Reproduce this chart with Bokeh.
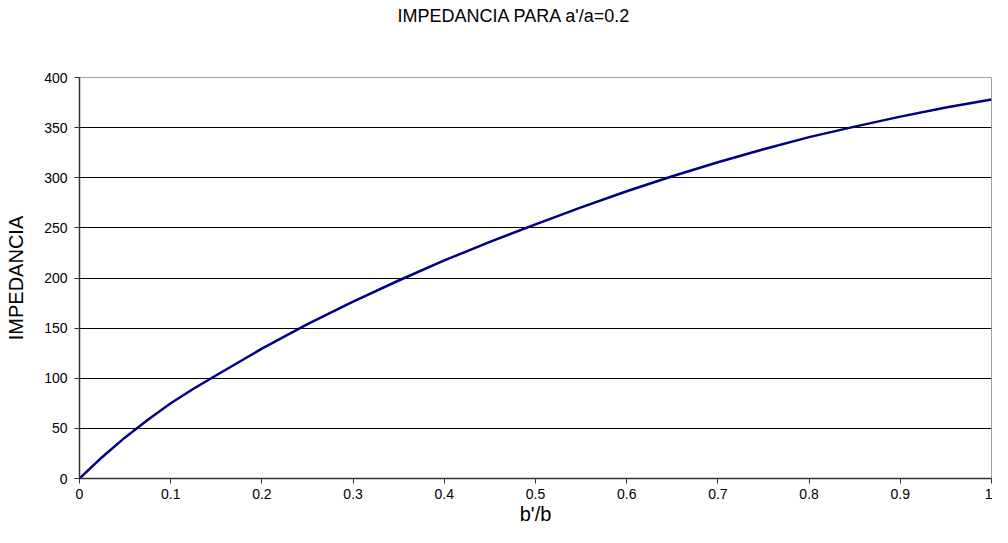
from bokeh.plotting import figure
from bokeh.models import FixedTicker, Range1d, Title
from bokeh.embed import file_html
from bokeh.resources import INLINE

# ---- data ----
b_ratio = [0.0, 0.025, 0.05, 0.075, 0.1, 0.125, 0.15, 0.2, 0.25, 0.3, 0.35,
           0.4, 0.45, 0.5, 0.55, 0.6, 0.65, 0.7, 0.75, 0.8, 0.85, 0.9, 0.95, 1.0]
impedance = [0, 21.5, 41, 58.5, 75, 89.5, 103, 129.5, 154, 176.5, 197.5,
             217.5, 236, 253.5, 270.5, 286.5, 301.5, 315.5, 328.5, 340.5, 351,
             361, 370, 378]

x_ticks = [0, 0.1, 0.2, 0.3, 0.4, 0.5, 0.6, 0.7, 0.8, 0.9, 1.0]
x_tick_labels = ["0", "0.1", "0.2", "0.3", "0.4", "0.5", "0.6", "0.7", "0.8", "0.9", "1"]
y_ticks = [0, 50, 100, 150, 200, 250, 300, 350, 400]

title_text = "IMPEDANCIA PARA a'/a=0.2"
x_label = "b'/b"
y_label = "IMPEDANCIA"

FONT = "Liberation Sans"

p = figure(width=992, height=527, output_backend="svg", toolbar_location=None,
           x_range=Range1d(0, 1), y_range=Range1d(0, 400),
           min_border_left=79, min_border_right=1, min_border_top=10,
           min_border_bottom=49)
p.title.text = ""
p.background_fill_color = "white"
p.border_fill_color = "white"
p.outline_line_color = "#a0a0a0"
p.outline_line_width = 1

# spacer between the plot area and the title (nearest to the frame)
spacer = Title(text=" ", text_font=FONT, text_font_size="1px", standoff=42)
p.add_layout(spacer, "above")

# chart title (outermost)
title = Title(text=title_text, align="left", offset=318, vertical_align="top",
              text_font=FONT, text_font_size="18px", text_font_style="normal",
              text_color="black", standoff=10)
p.add_layout(title, "above")

p.line(b_ratio, impedance, line_color="#000080", line_width=2.5,
       line_join="round")

# axes
for ax in (p.xaxis[0], p.yaxis[0]):
    ax.axis_line_color = "#333333"
    ax.axis_line_width = 1.5
    ax.major_tick_line_color = "#333333"
    ax.major_tick_in = 0
    ax.major_tick_out = 5
    ax.minor_tick_line_color = None
    ax.major_label_text_font = FONT
    ax.major_label_text_font_size = "14px"
    ax.major_label_text_color = "black"
    ax.axis_label_text_font = FONT
    ax.axis_label_text_font_size = "20px"
    ax.axis_label_text_font_style = "normal"
    ax.axis_label_text_color = "black"

p.xaxis[0].ticker = FixedTicker(ticks=x_ticks)
p.xaxis[0].major_label_overrides = {t_: l for t_, l in zip(x_ticks, x_tick_labels)}
p.xaxis[0].major_label_standoff = 5
p.xaxis[0].axis_label = x_label
p.xaxis[0].axis_label_standoff = 1

p.yaxis[0].ticker = FixedTicker(ticks=y_ticks)
p.yaxis[0].major_label_standoff = 7
p.yaxis[0].axis_label = y_label
p.yaxis[0].axis_label_standoff = 14

p.xgrid.grid_line_color = None
p.ygrid.grid_line_color = "black"
p.ygrid.grid_line_width = 1

open("out.html", "w").write(file_html(p, INLINE))
